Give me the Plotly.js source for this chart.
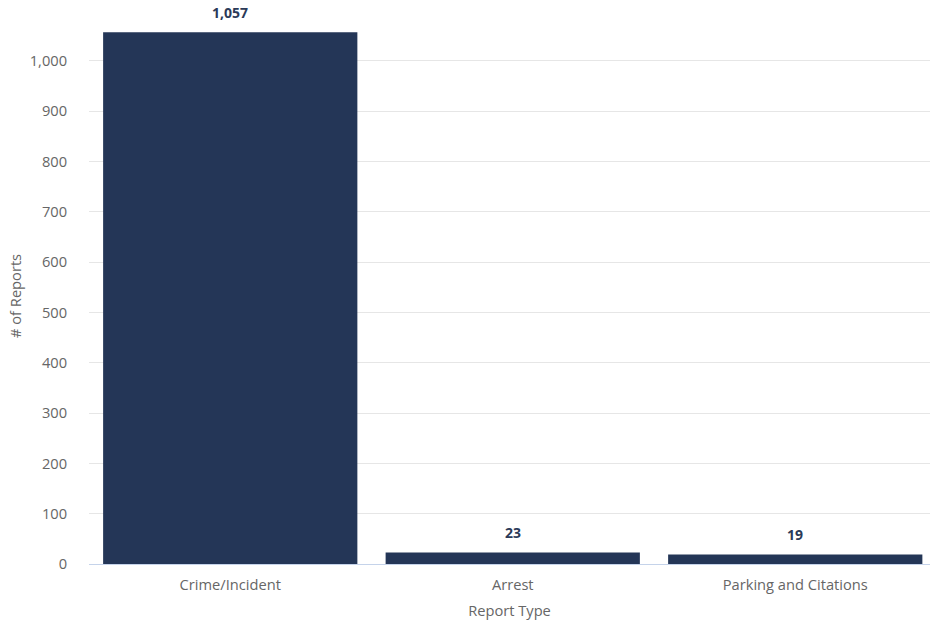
<!DOCTYPE html>
<html>
<head>
<meta charset="utf-8">
<script src="https://cdn.plot.ly/plotly-3.0.1.min.js"></script>
<style>html,body{margin:0;padding:0;background:#fff;overflow:hidden}#chart{width:930px;height:623px}</style>
</head>
<body>
<div id="chart"></div>
<script>
const categories = ["Crime/Incident", "Arrest", "Parking and Citations"];
const reports = [1057, 23, 19];
const yTickVals = [0, 100, 200, 300, 400, 500, 600, 700, 800, 900, 1000];

const FS = 14.667;

const trace = {
  type: 'bar',
  x: categories,
  y: reports,
  marker: {color: '#243657'},
  width: 0.9,
  hoverinfo: 'x+y'
};

const annotations = categories.map((c, i) => ({
  x: c, y: reports[i], xref: 'x', yref: 'y',
  text: reports[i].toLocaleString('en-US'),
  showarrow: false, yanchor: 'bottom', yshift: 8,
  font: {family: 'Open Sans', size: 14, color: '#2b3a58', weight: 'bold'}
}));

// y-axis title placed as a rotated annotation (slightly below axis centre, as in the reference)
annotations.push({
  text: '# of Reports', xref: 'paper', yref: 'paper',
  x: (15 - 89) / 841, y: (564 - 296) / 556,
  xanchor: 'center', yanchor: 'middle', textangle: -90, showarrow: false,
  font: {family: 'Open Sans', size: FS, color: '#666'}
});

const layout = {
  width: 930, height: 623,
  margin: {l: 89, r: 0, t: 8, b: 59},
  paper_bgcolor: '#fff', plot_bgcolor: '#fff',
  font: {family: 'Open Sans', size: FS, color: '#666'},
  showlegend: false,
  annotations: annotations,
  xaxis: {
    range: [-0.5, 2.477],
    showgrid: false,
    showline: true, linecolor: '#c5d3ea', linewidth: 1,
    ticks: 'outside', ticklen: 7, tickcolor: 'rgba(0,0,0,0)',
    tickfont: {family: 'Open Sans', size: FS, color: '#666'},
    title: {text: 'Report Type', font: {family: 'Open Sans', size: FS, color: '#666'}, standoff: 13},
    fixedrange: true
  },
  yaxis: {
    range: [0, 1105],
    tickvals: yTickVals,
    tickformat: ',d',
    showgrid: true, gridcolor: '#e6e6e6', gridwidth: 1,
    zeroline: false,
    showline: false,
    ticks: 'outside', ticklen: 18, tickcolor: 'rgba(0,0,0,0)',
    tickfont: {family: 'Open Sans', size: FS, color: '#666'},
    fixedrange: true
  }
};

Plotly.newPlot('chart', [trace], layout, {displayModeBar: false, staticPlot: true});
</script>
</body>
</html>
